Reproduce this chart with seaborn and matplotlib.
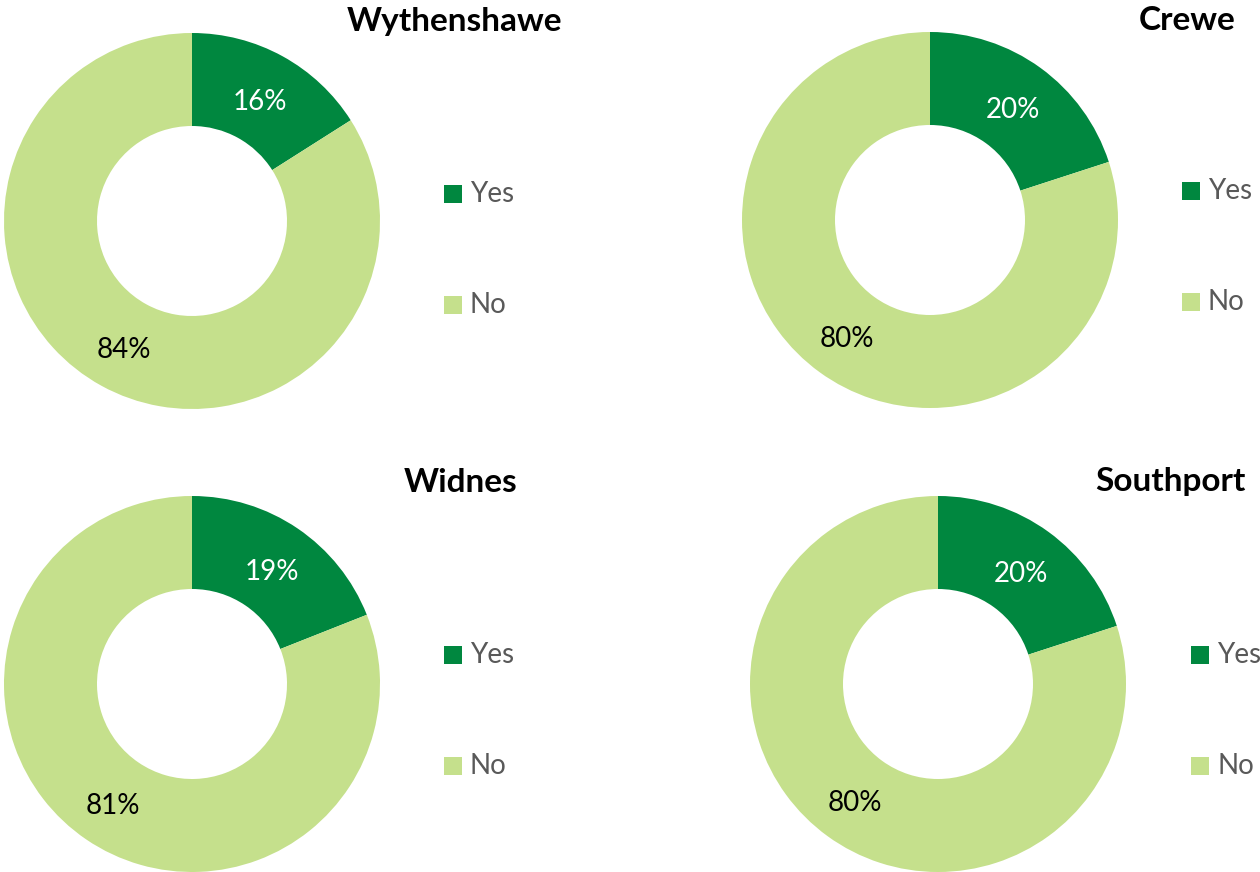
import matplotlib
matplotlib.use("Agg")
import matplotlib.pyplot as plt
import seaborn as sns
import numpy as np
from matplotlib.patches import Rectangle

sns.set_theme(style="white")
plt.rcParams['font.family'] = ['Lato', 'DejaVu Sans']

sites = ["Wythenshawe", "Crewe", "Widnes", "Southport"]
categories = ["Yes", "No"]
yes_values = [16, 20, 19, 20]
no_values = [84, 80, 81, 80]
colors = ["#00873F", "#C5E08C"]
label_colors = ["white", "black"]

W, H = 1260, 872
fig = plt.figure(figsize=(W / 100, H / 100), dpi=100)
fig.patch.set_facecolor("white")

# layout in pixels: center x, center y, outer radius, title right x, title y, legend x, legend yes y, legend no y
layout = [
    (192, 221, 188, 562, 22, 444, 194, 305),
    (930, 220, 188, 1236, 20, 1182, 191, 302),
    (192, 684, 188, 517, 482, 444, 655, 766),
    (938, 684, 188, 1246, 481, 1191, 655, 766),
]
inner = 95

for site, yv, nv, (cx, cy, r, tx, ty, lx, ly1, ly2) in zip(sites, yes_values, no_values, layout):
    ax = fig.add_axes([(cx - r) / W, 1 - (cy + r) / H, 2 * r / W, 2 * r / H])
    vals = [yv, nv]
    ax.pie(vals, colors=colors, startangle=90, counterclock=False,
           radius=1, wedgeprops=dict(width=1 - inner / r, linewidth=0))
    rmid = (1 + inner / r) / 2
    start = 90.0
    total = sum(vals)
    for v, lc in zip(vals, label_colors):
        mid = start - v / total * 180
        ang = np.deg2rad(mid)
        ax.text(rmid * np.cos(ang), rmid * np.sin(ang) - 0.025, f"{v}%", ha="center",
                va="center", fontsize=20, color=lc)
        start -= v / total * 360
    ax.set_xlim(-1, 1)
    ax.set_ylim(-1, 1)
    ax.set_aspect("equal")
    ax.axis("off")

    fig.text(tx / W, 1 - ty / H, site, ha="right", va="center", fontsize=24,
             fontweight="bold", color="black")
    for cat, col, ly in zip(categories, colors, [ly1, ly2]):
        fig.patches.append(Rectangle((lx / W, 1 - (ly + 9) / H), 18 / W, 18 / H,
                                     transform=fig.transFigure, facecolor=col,
                                     edgecolor="none", figure=fig))
        fig.text((lx + 26) / W, 1 - ly / H, cat, ha="left", va="center",
                 fontsize=20, color="#595959")

fig.savefig("out.png", dpi=100, facecolor="white")
